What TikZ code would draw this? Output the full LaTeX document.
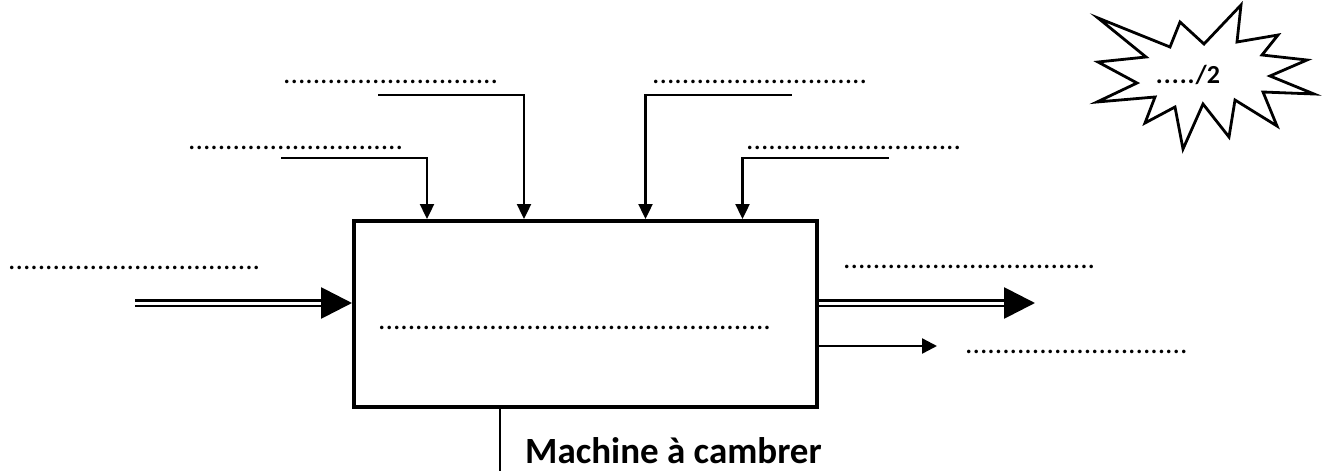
\documentclass[tikz,border=0pt]{standalone}
\usepackage{fontspec}
\setmainfont{Carlito}
\usetikzlibrary{arrows.meta}

\newcommand{\pts}[1]{\foreach \i in {1,...,#1}{.}}

\begin{document}
\begin{tikzpicture}[x = 1pt, y = -1pt]
\tikzstyle{dotStyle} = [anchor = base west, inner sep = 0pt, font = \fontsize{29.4}{30}\selectfont]
\tikzstyle{boxStyle} = [draw, line width = 4pt, minimum width = 463pt, minimum height = 186pt, inner sep = 0pt]
\tikzstyle{downStyle} = [line width = 2.4pt, -{Triangle[length = 15pt, width = 14pt]}]
\tikzstyle{dblStyle} = [double, double distance = 3pt, line width = 2.8pt, -{Triangle[length = 31pt, width = 31pt]}]
\tikzstyle{thinStyle} = [line width = 2.4pt, -{Triangle[length = 15pt, width = 15pt]}]
\useasboundingbox (0,0) rectangle (1328,471);
% system box
\node[boxStyle] (sys) at (585.5,314) {};
% texts to be filled in
\node[dotStyle] (t1) at (283,83) {\pts{29}};
\node[dotStyle] (t2) at (188,149) {\pts{29}};
\node[dotStyle] (t3) at (652,83) {\pts{29}};
\node[dotStyle] (t4) at (746,149) {\pts{29}};
\node[dotStyle] (tin) at (8,269) {\pts{34}};
\node[dotStyle] (tout) at (843,268) {\pts{34}};
\node[dotStyle] (tloss) at (965,353) {\pts{30}};
\node[dotStyle] (tfn) at (378,329) {\pts{53}};
% control inputs
\coordinate (c1) at (281,157.7);
\coordinate (c2) at (378,95);
\coordinate (c3) at (791.7,95);
\coordinate (c4) at (888.7,157.7);
\draw[downStyle] (c1) -| ([xshift = -158.5pt]sys.north);
\draw[downStyle] (c2) -| ([xshift = -61.5pt]sys.north);
\draw[downStyle] (c3) -| ([xshift = 60pt]sys.north);
\draw[downStyle] (c4) -| ([xshift = 157pt]sys.north);
% flows
\coordinate (in) at (135,303);
\coordinate (out) at (1035,303);
\coordinate (loss) at (937,346);
\draw[dblStyle] (in) -- ([yshift = 11pt]sys.west);
\draw[dblStyle] ([yshift = 11pt]sys.east) -- (out);
\draw[thinStyle] ([yshift = -32pt]sys.east) -- (loss);
% support
\coordinate (sup) at (500,471);
\draw[line width = 2.4pt] ([xshift = -85.5pt]sys.south) -- (sup);
\node[anchor = base west, inner sep = 0pt, font = \fontsize{37}{40}\bfseries] (mach) at (525,463) {Machine à cambrer};
% mark
\draw[line width = 2.8pt, line join = miter] (1098,18) -- (1170,47) -- (1180,22) -- (1204,44) -- (1241,5) -- (1237,42) -- (1278,35) -- (1262,55) -- (1307,60) -- (1270,76) -- (1314,94) -- (1263,92) -- (1277,126) -- (1235,100) -- (1229,137) -- (1203,104) -- (1183,149) -- (1175,107) -- (1145,123) -- (1155,97) -- (1097,102) -- (1137,83) -- (1098,62) -- (1146,57) -- cycle;
\node[inner sep = 0pt, font = \fontsize{26}{28}\bfseries] (note) at (1188,75) {.\kern1pt.\kern1pt.\kern1pt.\kern1pt.\kern1pt/2};
\end{tikzpicture}
\end{document}
